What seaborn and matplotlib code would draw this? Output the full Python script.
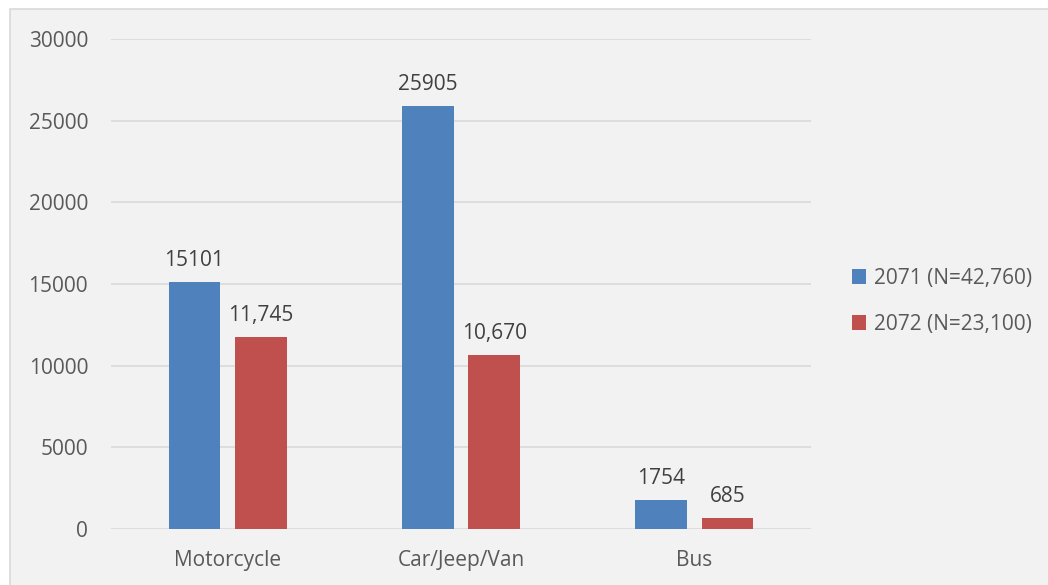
import matplotlib
matplotlib.use("Agg")
import matplotlib.pyplot as plt
import seaborn as sns
import pandas as pd
from matplotlib.patches import Rectangle

categories = ["Motorcycle", "Car/Jeep/Van", "Bus"]
series_names = ["2071 (N=42,760)", "2072 (N=23,100)"]
values_2071 = [15101, 25905, 1754]
values_2072 = [11745, 10670, 685]
labels_2071 = ["15101", "25905", "1754"]
labels_2072 = ["11,745", "10,670", "685"]
y_ticks = [0, 5000, 10000, 15000, 20000, 25000, 30000]

df = pd.DataFrame({
    "category": categories * 2,
    "series": [series_names[0]] * 3 + [series_names[1]] * 3,
    "value": values_2071 + values_2072,
})

sns.set_theme(style="white")
plt.rcParams["font.family"] = ["Open Sans", "DejaVu Sans"]

bg = "#F2F2F2"
text_col = "#595959"
grid_col = "#D9D9D9"
fs = 15
palette = {series_names[0]: "#4F81BD", series_names[1]: "#C0504D"}

fig = plt.figure(figsize=(10.48, 5.85), dpi=100)
fig.patch.set_facecolor("white")
# chart area panel with a thin border on its top and left edges
fig.patches.append(Rectangle((10 / 1048, -0.1), 1.2, (585 - 9) / 585 + 0.1,
                             transform=fig.transFigure, facecolor=bg,
                             edgecolor=grid_col, linewidth=1.2, zorder=-5))

ax = fig.add_axes([111 / 1048, 1 - 529 / 585, 700 / 1048, 490 / 585])
ax.set_zorder(2)
ax.set_facecolor(bg)

sns.barplot(data=df, x="category", y="value", hue="series", order=categories,
            hue_order=series_names, palette=palette, width=0.57, gap=0.225,
            saturation=1, linewidth=0, ax=ax, legend=True, zorder=3)

ax.set_ylim(0, 30000)
ax.set_yticks(y_ticks)
ax.set_yticklabels([str(t) for t in y_ticks])
ax.set_xlim(-0.5, 2.5)
ax.yaxis.grid(True, color=grid_col, linewidth=1.2, zorder=0)
ax.set_axisbelow(True)
for s in ax.spines.values():
    s.set_visible(False)
ax.tick_params(axis="both", length=0, colors=text_col, labelsize=fs)
ax.tick_params(axis="y", pad=16.5)
ax.tick_params(axis="x", pad=15)
ax.set_xlabel("")
ax.set_ylabel("")

for container, labs in zip(ax.containers, [labels_2071, labels_2072]):
    ax.bar_label(container, labels=labs, padding=8, fontsize=fs, color="#404040")

leg = ax.legend(loc="center left", bbox_to_anchor=(1.032, 0.465), frameon=False,
                fontsize=fs, handlelength=0.68, handleheight=0.68,
                handletextpad=0.35, labelspacing=1.2)
for t in leg.get_texts():
    t.set_color(text_col)

fig.savefig("out.png", dpi=100, facecolor=fig.get_facecolor())
